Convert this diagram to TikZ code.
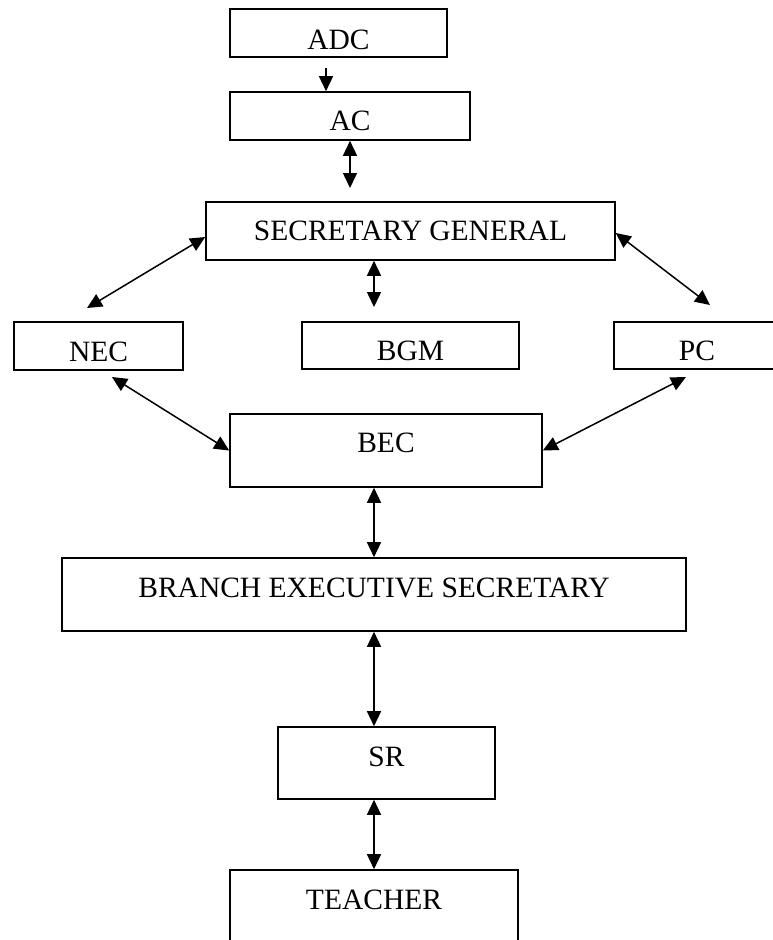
\documentclass[tikz,border=0pt]{standalone}
\usepackage{fontspec}
\setmainfont{Liberation Serif}
\usepackage{tikz}
\usetikzlibrary{positioning,arrows.meta,calc}
\tikzset{
  orgbox/.style={draw, line width=1.6pt, inner sep=0pt},
  every label/.style={font=\fontsize{29.5}{35}\selectfont, inner sep=0pt},
  link/.style={line width=1.5pt},
}

\begin{document}
\begin{tikzpicture}[x=1pt, y=-1pt, >={Triangle[length=15pt, width=14pt]}]
\useasboundingbox (0,0) rectangle (772,940);
\node[orgbox, minimum width=217pt, minimum height=48pt,
    label={[yshift=-6.5pt]center:ADC}] (adc) at (338.5,33) {};
\node[orgbox, minimum width=240pt, minimum height=48pt,
    label={[yshift=-5pt]center:AC}] (ac) at (350,116) {};
\node[orgbox, minimum width=409pt, minimum height=58pt,
    label={center:SECRETARY GENERAL}] (sg) at (410.5,231) {};
\node[orgbox, minimum width=169pt, minimum height=48pt,
    label={[yshift=-5.5pt]center:NEC}] (nec) at (98.5,346) {};
\node[orgbox, minimum width=217pt, minimum height=47pt,
    label={[yshift=-5.5pt]center:BGM}] (bgm) at (410.5,345.5) {};
\node[orgbox, minimum width=166pt, minimum height=47pt,
    label={[yshift=-5.5pt]center:PC}] (pc) at (697,345.5) {};
\node[orgbox, minimum width=312pt, minimum height=73pt,
    label={[yshift=7.5pt]center:BEC}] (bec) at (386,450.5) {};
\node[orgbox, minimum width=624pt, minimum height=73pt,
    label={[yshift=7pt]center:BRANCH EXECUTIVE SECRETARY}] (bes) at (374,594.5) {};
\node[orgbox, minimum width=217pt, minimum height=72pt,
    label={[yshift=6pt]center:SR}] (sr) at (386.5,763) {};
\node[orgbox, minimum width=288pt, minimum height=76pt,
    label={[yshift=8pt]center:TEACHER}] (teacher) at (374,908) {};

\coordinate (adcgap) at (326,68);
\coordinate (sgtop) at (350,188);
\coordinate (bgmtop) at (374,307);
\coordinate (necup) at (87,308);
\coordinate (pcup) at (710,305);
\coordinate (necdown) at (112,377);
\coordinate (pcdown) at (686,377);

\draw[link, ->] (adcgap) -- (adcgap |- ac.north);
\draw[link, <->] (ac) -- (sgtop);
\draw[link, <->] (sg.south -| bgmtop) -- (bgmtop);
\draw[link, <->] ($(sg.west)+(0,6)$) -- (necup);
\draw[link, <->] ($(sg.east)+(0,2)$) -- (pcup);
\draw[link, <->] (necdown) -- (bec.west);
\draw[link, <->] (pcdown) -- (bec.east);
\draw[link, <->] (bec.south -| bes.north) -- (bes.north);
\draw[link, <->] (bes.south) -- (sr.north -| bes.south);
\draw[link, <->] (sr.south -| teacher.north) -- (teacher.north);
\end{tikzpicture}
\end{document}
